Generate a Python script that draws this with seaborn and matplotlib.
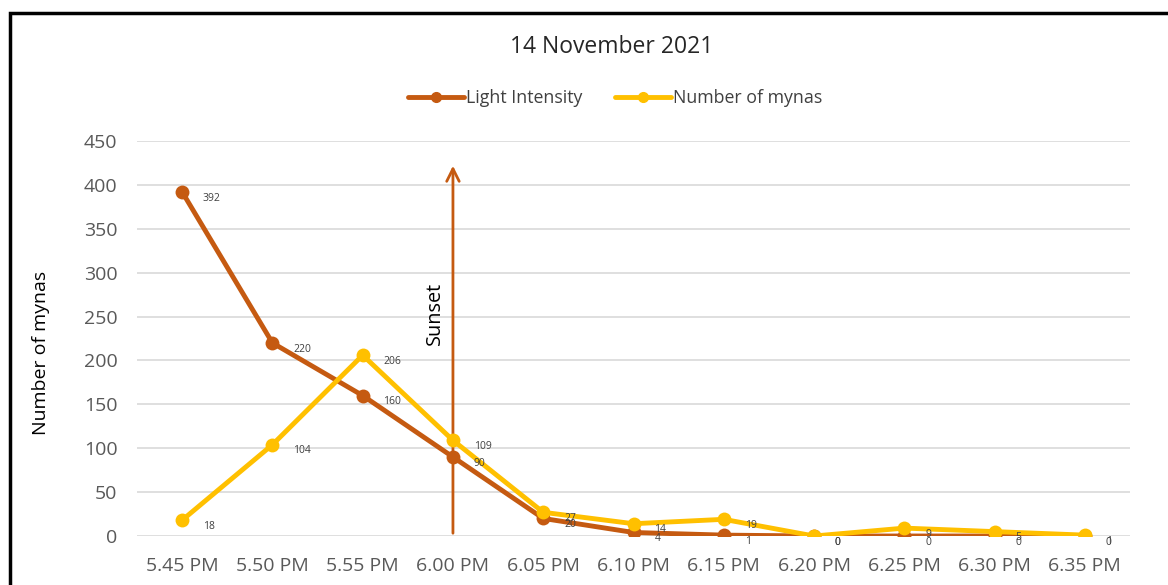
import matplotlib
matplotlib.use("Agg")
import matplotlib.pyplot as plt
from matplotlib.lines import Line2D
from matplotlib.patches import Rectangle
import seaborn as sns
import pandas as pd

times = ["5.45 PM", "5.50 PM", "5.55 PM", "6.00 PM", "6.05 PM", "6.10 PM",
         "6.15 PM", "6.20 PM", "6.25 PM", "6.30 PM", "6.35 PM"]
light_intensity = [392, 220, 160, 90, 20, 4, 1, 0, 0, 0, 0]
mynas = [18, 104, 206, 109, 27, 14, 19, 0, 9, 5, 1]
series_names = ["Light Intensity", "Number of mynas"]
colors = ["#C55A11", "#FFC000"]
sunset_time = "6.00 PM"

sns.set_style("white")
plt.rcParams["font.family"] = ["Open Sans", "DejaVu Sans"]

df = pd.DataFrame({
    "pos": list(range(len(times))) * 2,
    "value": light_intensity + mynas,
    "series": [series_names[0]] * len(times) + [series_names[1]] * len(times),
})

fig = plt.figure(figsize=(11.68, 5.85), dpi=100)
ax = fig.add_axes([137 / 1168, 1 - 536 / 585, (1130 - 137) / 1168, (536 - 141) / 585])

sns.lineplot(data=df, x="pos", y="value", hue="series", hue_order=series_names,
             palette=colors, marker="o", markersize=10, markeredgewidth=0,
             linewidth=3.5, legend=False, ax=ax, zorder=3)

ax.set_xlim(-0.5, len(times) - 0.5)
ax.set_ylim(0, 450)
ax.set_yticks(range(0, 451, 50))
ax.set_xticks(range(len(times)))
ax.set_xticklabels(times)
ax.tick_params(axis="both", length=0, labelsize=14, labelcolor="#595959")
ax.tick_params(axis="y", pad=14)
ax.tick_params(axis="x", pad=15)
ax.yaxis.grid(True, color="#D9D9D9", linewidth=1.2)
ax.set_axisbelow(True)
for s in ax.spines.values():
    s.set_visible(False)
ax.set_xlabel("")
ax.set_ylabel("Number of mynas", fontsize=14, color="black")
ax.yaxis.label.set_verticalalignment("center")
ax.yaxis.set_label_coords((41 - 137) / 993, (536 - 353) / 395)

# value labels to the right of each point
for vals in (light_intensity, mynas):
    for i, v in enumerate(vals):
        ax.annotate(str(v), (i, v), xytext=(15, -4.5), textcoords="offset points",
                    ha="left", va="center", fontsize=7.5, color="#404040", zorder=4)

# sunset marker
sx = times.index(sunset_time)
ax.annotate("", xy=(sx, 425), xytext=(sx, 0),
            arrowprops=dict(arrowstyle="->,head_length=0.9,head_width=0.45",
                            color="#C55A11", lw=2), zorder=2)
ax.text(sx - 0.2, 254, "Sunset", rotation=90, ha="center", va="center",
        fontsize=14.3, color="black")

fig.text(612 / 1168, 1 - 47 / 585, "14 November 2021", ha="center", va="center",
         fontsize=16.5, color="#262626")

handles = [Line2D([0], [0], color=c, lw=3.5, marker="o", markersize=7) for c in colors]
fig.legend(handles, series_names, loc="center", bbox_to_anchor=(615 / 1168, 1 - 98 / 585),
           ncol=2, frameon=False, fontsize=12.8, handlelength=3.2, handletextpad=0.1,
           columnspacing=1.8, labelcolor="#404040")

# outer frame
fig.patches.append(Rectangle((9.5 / 1168, -0.2), 1.2, 1.2 - 12.5 / 585,
                             transform=fig.transFigure, fill=False,
                             edgecolor="black", linewidth=2.5))

fig.savefig("out.png", dpi=100)
